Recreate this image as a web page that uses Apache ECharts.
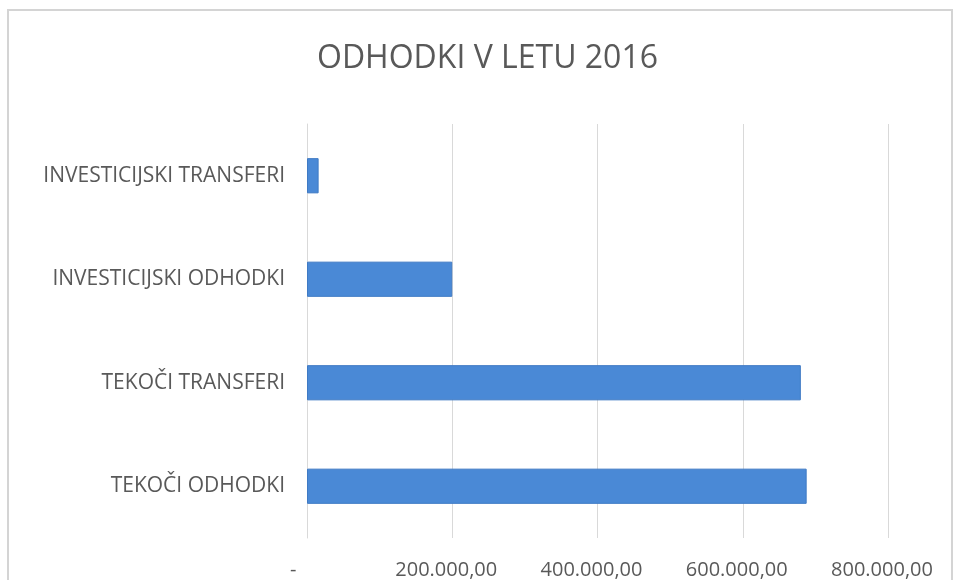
<!DOCTYPE html>
<html>
<head>
<meta charset="utf-8">
<script src="https://cdn.jsdelivr.net/npm/echarts@6/dist/echarts.min.js"></script>
<style>html,body{margin:0;padding:0;background:#fff;}#c{width:958px;height:580px;}</style>
</head>
<body>
<div id="c"></div>
<script>
var categories = ['TEKOČI ODHODKI', 'TEKOČI TRANSFERI', 'INVESTICIJSKI ODHODKI', 'INVESTICIJSKI TRANSFERI'];
var values = [688000, 680000, 200000, 16000];
var tickLabels = ['-   ', '200.000,00', '400.000,00', '600.000,00', '800.000,00'];

var chart = echarts.init(document.getElementById('c'));
chart.setOption({
  animation: false,
  backgroundColor: '#fff',
  graphic: [{
    type: 'rect', shape: {x: 8, y: 10, width: 944, height: 600},
    style: {fill: 'none', stroke: '#d4d4d4', lineWidth: 2}, silent: true
  }],
  title: {
    text: 'ODHODKI V LETU 2016', left: 312, top: 38,
    textStyle: {fontFamily: 'Open Sans', fontWeight: 'normal', fontSize: 32, color: '#595959'}
  },
  grid: {left: 307, right: 70, top: 124, bottom: 41},
  xAxis: {
    type: 'value', min: 0, max: 800000, interval: 200000,
    axisLine: {show: false}, axisTick: {show: false},
    splitLine: {lineStyle: {color: '#d9d9d9', width: 1}},
    axisLabel: {
      margin: 22, fontFamily: 'Open Sans', fontSize: 20, color: '#595959',
      padding: [0, 12, 0, 0],
      formatter: function (v) { return tickLabels[Math.round(v / 200000)]; }
    }
  },
  yAxis: {
    type: 'category', data: categories,
    axisLine: {show: true, lineStyle: {color: '#d9d9d9'}}, axisTick: {show: false},
    axisLabel: {margin: 22, fontFamily: 'Open Sans', fontSize: 21, color: '#595959'}
  },
  series: [{
    type: 'bar', data: values, barWidth: '34%',
    itemStyle: {color: '#4a89d6', borderColor: '#3f7ac4', borderWidth: 1}
  }]
});
</script>
</body>
</html>
